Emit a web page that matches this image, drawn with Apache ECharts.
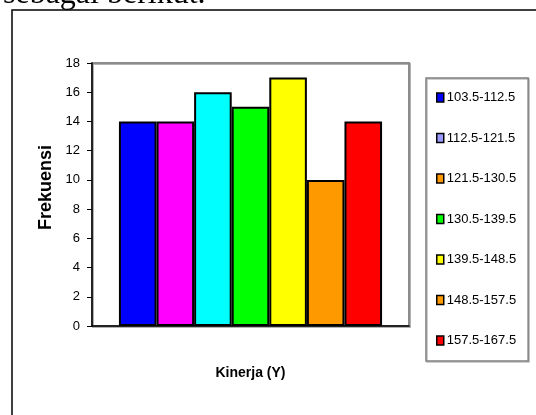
<!DOCTYPE html>
<html>
<head>
<meta charset="utf-8">
<script src="https://cdn.jsdelivr.net/npm/echarts@6/dist/echarts.min.js"></script>
<style>html,body{margin:0;padding:0;background:#fff;}#c{width:536px;height:415px;}</style>
</head>
<body>
<div id="c"></div>
<script>
const intervals = ['103.5-112.5','112.5-121.5','121.5-130.5','130.5-139.5','139.5-148.5','148.5-157.5','157.5-167.5'];
const frequencies = [14, 14, 16, 15, 17, 10, 14];
const barColors = ['#0000ff','#ff00ff','#00ffff','#00ff00','#ffff00','#ff9900','#ff0000'];
const legendColors = ['#0000ff','#9999ff','#ff9900','#00ff00','#ffff00','#ff9900','#ff0000'];
const categories = [''];
const yTicks = {min: 0, max: 18, interval: 2};

const FONT = "'Liberation Sans',Arial,sans-serif";
const chart = echarts.init(document.getElementById('c'), null, {renderer: 'canvas'});
chart.setOption({
  animation: false,
  backgroundColor: '#fff',
  graphic: [
    {type: 'text', left: 3, top: -21, style: {text: 'sebagai berikut.', font: "32px 'Liberation Serif','Times New Roman',serif", fill: '#000'}},
    {type: 'rect', shape: {x: 12, y: 10, width: 700, height: 600}, style: {fill: 'none', stroke: '#000', lineWidth: 1.5}}
  ],
  grid: {left: 92, right: 127, top: 63, bottom: 89, show: true, borderColor: '#8c8c8c', borderWidth: 2, shadowColor: 'rgba(0,0,0,0.3)', shadowOffsetX: 1, shadowOffsetY: 1},
  legend: {
    orient: 'vertical', left: 426, top: 78,
    padding: [13, 12, 14, 10],
    itemGap: 27.5,
    itemWidth: 7, itemHeight: 9,
    borderColor: '#808080', borderWidth: 1.5,
    shadowColor: 'rgba(0,0,0,0.25)', shadowOffsetX: 1, shadowOffsetY: 1,
    textStyle: {fontFamily: FONT, fontSize: 13, color: '#000', padding: [0,0,0,-2]},
    icon: 'rect',
    data: intervals.map((n, i) => ({name: n, itemStyle: {color: legendColors[i], borderColor: '#000', borderWidth: 1.5}}))
  },
  xAxis: {
    type: 'category', data: categories,
    name: 'Kinerja (Y)', nameLocation: 'middle', nameGap: 40,
    nameTextStyle: {fontFamily: FONT, fontSize: 14, fontWeight: 'bold', color: '#000'},
    axisLine: {lineStyle: {color: '#000', width: 1.5}},
    axisTick: {show: false}, axisLabel: {show: false}
  },
  yAxis: {
    type: 'value', min: yTicks.min, max: yTicks.max, interval: yTicks.interval,
    name: 'Frekuensi', nameLocation: 'middle', nameGap: 37,
    nameTextStyle: {fontFamily: FONT, fontSize: 18, fontWeight: 'bold', color: '#000', padding: [0, 0, 0, 14]},
    axisLine: {show: true, lineStyle: {color: '#000', width: 1.5}},
    axisTick: {show: true, length: 5, lineStyle: {color: '#000', width: 1}},
    axisLabel: {fontFamily: FONT, fontSize: 13, color: '#000', margin: 12},
    splitLine: {show: false}
  },
  series: intervals.map((n, i) => ({
    name: n, type: 'bar', data: [frequencies[i]],
    barGap: '0%', barCategoryGap: '17%',
    itemStyle: {color: barColors[i], borderColor: '#000', borderWidth: 2}
  }))
});
</script>
</body>
</html>
